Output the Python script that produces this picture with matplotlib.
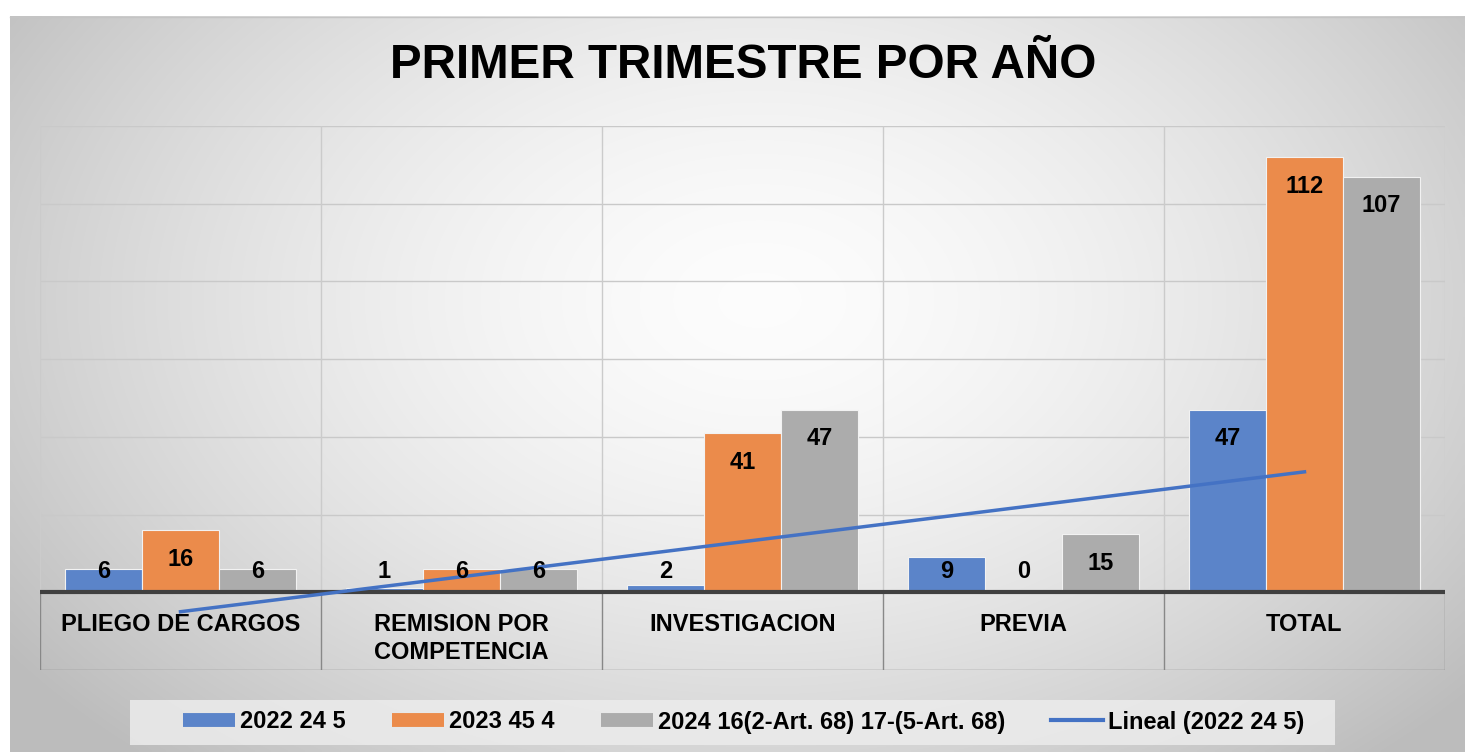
import matplotlib
matplotlib.use("Agg")
import matplotlib.pyplot as plt
import numpy as np
from matplotlib.lines import Line2D
from matplotlib.patches import Rectangle, Arc

plt.rcParams['font.family'] = ['Liberation Sans', 'DejaVu Sans']
plt.rcParams['font.weight'] = 'bold'

categories = ["PLIEGO DE CARGOS", "REMISION POR\nCOMPETENCIA", "INVESTIGACION", "PREVIA", "TOTAL"]
series_names = ["2022 24 5", "2023 45 4", "2024 16(2-Art. 68) 17-(5-Art. 68)"]
vals_2022 = [6, 1, 2, 9, 47]
vals_2023 = [16, 6, 41, 0, 112]
vals_2024 = [6, 6, 47, 15, 107]
trend_name = "Lineal (2022 24 5)"
title = "PRIMER TRIMESTRE POR AÑO"

colors = ["#5b84c9", "#eb8b4b", "#acacac"]
trend_color = "#4472c4"

W, H = 1465, 752
fig = plt.figure(figsize=(W / 100, H / 100), dpi=100, facecolor="white")

# background gradient
bg = fig.add_axes([0, 0, 1, 1])
bg.set_xlim(0, W)
bg.set_ylim(H, 0)
bg.axis("off")
gx, gy = np.meshgrid(np.linspace(10, W, 400), np.linspace(16, H, 220))
r = np.sqrt(((gx - 760) / 900) ** 2 + ((gy - 300) / 600) ** 2)
shade = np.clip(0.99 - 0.24 * r ** 1.6, 0.74, 1)
bg.imshow(np.dstack([shade] * 3), extent=[10, W, H, 16], aspect="auto", interpolation="bilinear")
bg.plot([10, W], [16.5, 16.5], color="#c4c4c4", lw=1)
bg.add_patch(Arc((-38, 762), 90, 110, theta1=0, theta2=90, color="#5cb33c", lw=7))

ax = fig.add_axes([40 / W, (H - 670) / H, (1445 - 40) / W, (670 - 126) / H])
ax.set_facecolor("none")
ax.set_xlim(-0.5, len(categories) - 0.5)
ax.set_ylim(-20, 120)
ax.set_xticks([])
ax.set_yticks([])
for s in ax.spines.values():
    s.set_visible(False)

n = len(categories)
x = np.arange(n)
for yv in range(20, 121, 20):
    ax.plot([-0.5, n - 0.5], [yv, yv], color="#c9c9c9", lw=1, zorder=1)
for xv in np.arange(-0.5, n, 1.0):
    ax.plot([xv, xv], [0, 120], color="#cbcbcb", lw=1, zorder=1)
    ax.plot([xv, xv], [-20, 0], color="#888888", lw=1, zorder=1)
ax.plot([-0.5, n - 0.5], [-20, -20], color="#888888", lw=1, zorder=1)

bw = 0.274
all_vals = [vals_2022, vals_2023, vals_2024]
for i, (vals, c) in enumerate(zip(all_vals, colors)):
    xs = x + (i - 1) * bw
    ax.bar(xs, vals, width=bw, color=c, edgecolor="#f2f2f2", lw=0.8, zorder=2)
    for xi, v in zip(xs, vals):
        ax.text(xi, max(v - 7.5, 5.3), str(v), ha="center", va="center",
                fontsize=17, fontweight="bold", color="black", zorder=5)

ax.plot([-0.5, n - 0.5], [0, 0], color="#404040", lw=3, zorder=3, solid_capstyle="butt")

# linear trendline of 2022 series
coef = np.polyfit(x, vals_2022, 1)
ax.plot(x[[0, -1]], np.polyval(coef, x[[0, -1]]), color=trend_color, lw=2.5, zorder=4)

for xi, lab in zip(x, categories):
    ax.text(xi, -5.4, lab, ha="center", va="top", fontsize=17, fontweight="bold",
            linespacing=1.25, zorder=5)

fig.text(743 / W, 1 - 66 / H, title, ha="center", va="center", fontsize=34.3, fontweight="bold")

# legend
bg.add_patch(Rectangle((130, 700), 1205, 45, facecolor="#ececec", edgecolor="none", alpha=0.85))
handles = [Line2D([], [], color=c, lw=10, solid_capstyle="butt") for c in colors]
handles.append(Line2D([], [], color=trend_color, lw=3))
leg = fig.legend(handles, series_names + [trend_name], loc="center",
                 bbox_to_anchor=(744 / W, 1 - 722 / H), ncol=4, frameon=False,
                 prop={"size": 17, "weight": "bold"}, handlelength=2.2,
                 handletextpad=0.22, columnspacing=1.95)

fig.savefig("out.png", dpi=100, facecolor="white")
